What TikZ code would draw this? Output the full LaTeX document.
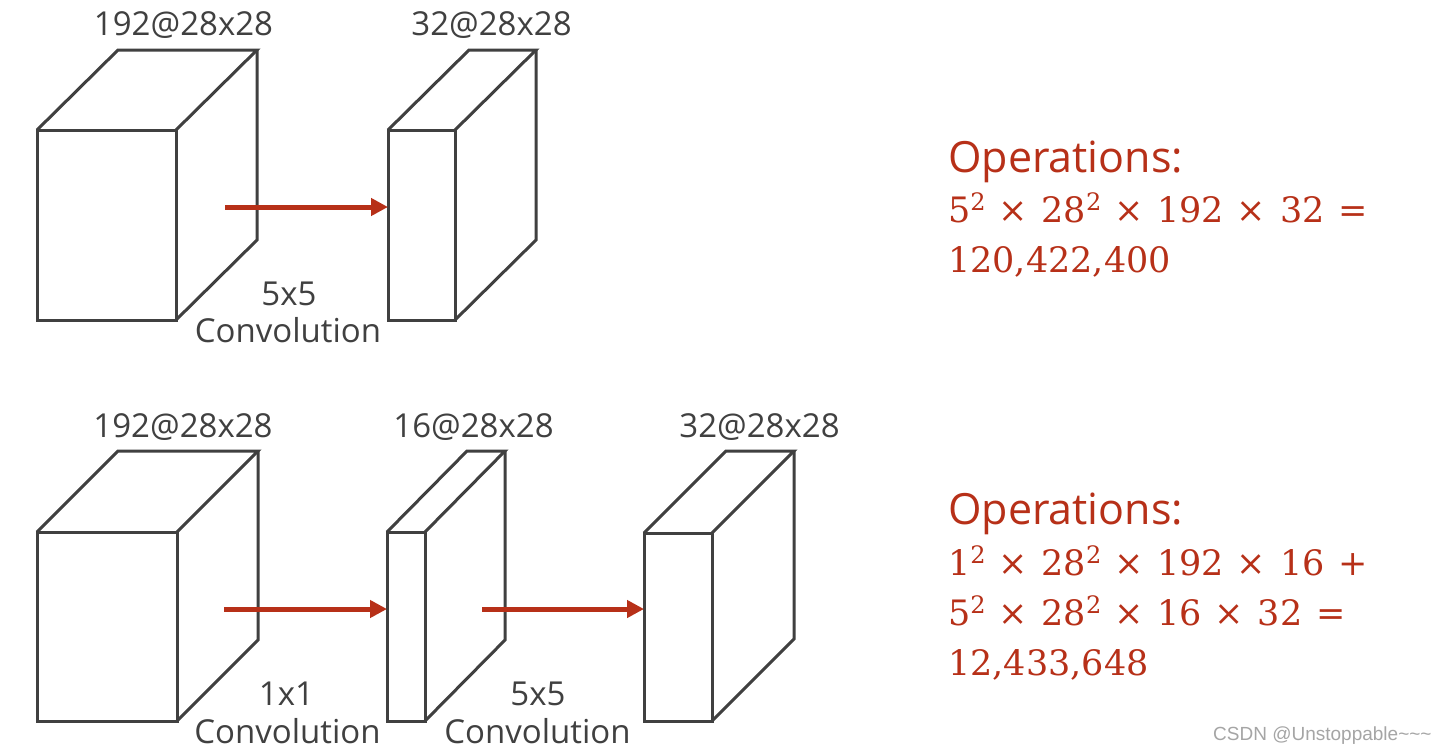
\documentclass[tikz,border=0pt]{standalone}
\usepackage{fontspec}
\setmainfont{Open Sans}
\newfontfamily\serifnum{DejaVu Serif}
\newfontfamily\wmfont{Liberation Sans}
\usetikzlibrary{arrows.meta}
\definecolor{linegray}{RGB}{64,64,64}
\definecolor{opred}{RGB}{183,48,24}
\definecolor{wmgray}{RGB}{165,165,165}
\newcommand\sqtwo{\raisebox{12pt}{\serifnum\fontsize{24}{24}\selectfont 2}}
\newcommand\tms{\hspace{0.36em}×\hspace{0.4em}}
\newcommand\eqsign{\hspace{0.4em}=}
\newcommand\plussign{\hspace{0.4em}+}
\newcommand\drawcube[7]{%
  \node[face, minimum width=#4pt, minimum height=#5pt] (#1) at (#2,#3) {};
  \draw[edge] (#1.north west) -- ++(#6,-#7) -- ++(#4,0) coordinate (#1-tr) -- (#1.north east);
  \draw[edge] (#1-tr) -- ++(0,#5) -- (#1.south east);
}
\begin{document}
\begin{tikzpicture}[x=1pt,y=-1pt,
  face/.style={draw=linegray, line width=3pt, fill=white, inner sep=0pt, outer sep=0pt, anchor=north west},
  edge/.style={draw=linegray, line width=3pt, line join=miter},
  conv/.style={draw=opred, line width=5pt, -{Triangle[length=17pt,width=17pt]}},
  lbl/.style={text=linegray, font=\fontsize{33}{36}\selectfont, anchor=base, inner sep=0pt},
  ops/.style={text=opred, font=\fontsize{43}{46}\selectfont, anchor=base west, inner sep=0pt},
  eqn/.style={text=opred, font=\serifnum\fontsize{35}{40}\selectfont, anchor=base west, inner sep=0pt},
  wm/.style={text=wmgray, font=\wmfont\fontsize{19}{21}\selectfont, anchor=base west, inner sep=0pt}]
\fill[white] (0,0) rectangle (1447,753);
\useasboundingbox (0,0) rectangle (1447,753);

% top row
\drawcube{A}{37}{130}{139}{190}{81}{80}
\drawcube{B}{388}{130}{67}{190}{81}{80}
\coordinate (s1) at (225,207);
\draw[conv] (s1) -- (s1 -| B.west);

\node[lbl] (tA) at (183.5,35) {192@28x28};
\node[lbl] (tB) at (491.5,35) {32@28x28};
\node[lbl] (k1) at (289,305) {5x5};
\node[lbl] (c1) at (288,342) {Convolution};

% bottom row
\drawcube{C}{37}{532}{140}{189}{81}{81}
\drawcube{D}{387}{532}{38}{189}{80}{81}
\drawcube{E}{644}{533}{68}{188}{82}{82}
\coordinate (s2) at (224,609);
\coordinate (s3) at (482,609);
\draw[conv] (s2) -- (s2 -| D.west);
\draw[conv] (s3) -- (s3 -| E.west);

\node[lbl] (tC) at (183,437) {192@28x28};
\node[lbl] (tD) at (473.5,437) {16@28x28};
\node[lbl] (tE) at (759.5,437) {32@28x28};
\node[lbl] (k2) at (286.5,705) {1x1};
\node[lbl] (c2) at (287.5,743) {Convolution};
\node[lbl] (k3) at (538,705) {5x5};
\node[lbl] (c3) at (537.5,743) {Convolution};

% operations
\node[ops] (o1) at (948,172) {Operations:};
\node[eqn] (e1) at (948,222) {5\sqtwo\tms 28\sqtwo\tms 192\tms 32\eqsign};
\node[eqn] (e2) at (948,272) {120,422,400};

\node[ops] (o2) at (948,524) {Operations:};
\node[eqn] (e3) at (948,575) {1\sqtwo\tms 28\sqtwo\tms 192\tms 16\plussign};
\node[eqn] (e4) at (948,625) {5\sqtwo\tms 28\sqtwo\tms 16\tms 32\eqsign};
\node[eqn] (e5) at (948,675) {12,433,648};

\node[wm] (w) at (1213,740) {CSDN @Unstoppable\char`~\char`~\char`~};
\end{tikzpicture}
\end{document}
